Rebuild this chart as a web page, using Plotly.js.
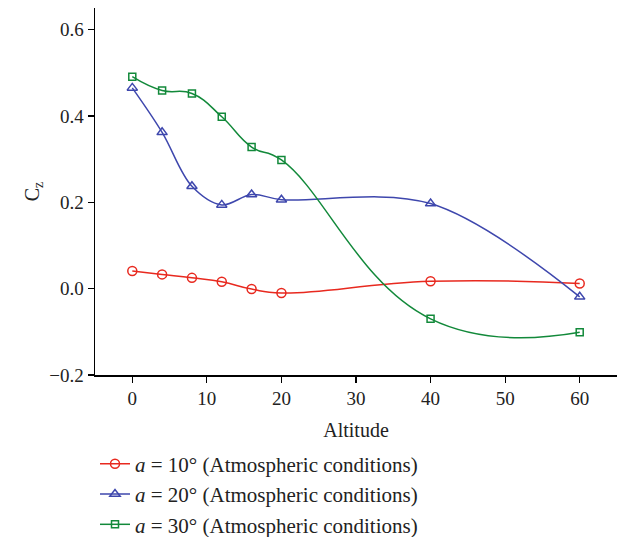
<!DOCTYPE html>
<html>
<head>
<meta charset="utf-8">
<script src="https://cdn.plot.ly/plotly-3.0.1.min.js"></script>
<style>html,body{margin:0;padding:0;background:#fff;}#chart{width:626px;height:537px;}</style>
</head>
<body>
<div id="chart"></div>
<script>
const altitude = [0, 4, 8, 12, 16, 20, 40, 60];
const cz10 = [0.041, 0.033, 0.025, 0.016, -0.001, -0.010, 0.017, 0.012];
const cz20 = [0.465, 0.362, 0.237, 0.194, 0.218, 0.206, 0.197, -0.019];
const cz30 = [0.491, 0.459, 0.452, 0.398, 0.328, 0.298, -0.070, -0.101];
const names = [
  "<i>a</i> = 10° (Atmospheric conditions)",
  "<i>a</i> = 20° (Atmospheric conditions)",
  "<i>a</i> = 30° (Atmospheric conditions)"
];
const colors = ["#e8291f", "#3e47ad", "#12893a"];
const symbols = ["circle-open", "triangle-up-open", "square-open"];
const series = [cz10, cz20, cz30];

const traces = series.map((ys, i) => ({
  x: altitude, y: ys, name: names[i], type: "scatter", mode: "lines+markers",
  line: {color: colors[i], width: 1.5, shape: "spline", smoothing: i === 1 ? 1.0 : 1.3},
  marker: {symbol: symbols[i], size: i === 2 ? 7 : 9, color: colors[i], line: {width: 1.5, color: colors[i]}}
}));

const tickFont = {family: "Liberation Serif, Times New Roman, serif", size: 19, color: "#222"};
const font = {family: "Liberation Serif, Times New Roman, serif", size: 20, color: "#222"};
const legendFont = {family: "Liberation Serif, Times New Roman, serif", size: 21, color: "#222"};
const layout = {
  width: 626, height: 537,
  margin: {l: 95, r: 9, t: 8, b: 162, autoexpand: false},
  paper_bgcolor: "#fff", plot_bgcolor: "#fff",
  font: font,
  showlegend: true,
  xaxis: {
    range: [-5, 65], tickvals: [0, 10, 20, 30, 40, 50, 60], tickfont: tickFont,
    showline: true, linecolor: "#000", linewidth: 1.5, showgrid: false, zeroline: false,
    ticks: "outside", ticklen: 6, tickcolor: "#000", tickwidth: 1.2,
    title: {text: "Altitude", font: font, standoff: 14}
  },
  yaxis: {
    range: [-0.2, 0.65], tickvals: [-0.2, 0, 0.2, 0.4, 0.6], tickfont: tickFont,
    ticktext: ["\u22120.2", "0.0", "0.2", "0.4", "0.6"],
    showline: true, linecolor: "#000", linewidth: 1.5, showgrid: false, zeroline: false,
    ticks: "outside", ticklen: 6, tickcolor: "#000", tickwidth: 1.2,
    title: {text: "C<sub>z</sub>", font: font, standoff: 4}
  },
  legend: {
    orientation: "v", x: 0.0, xanchor: "left", xref: "paper",
    y: 0.174, yanchor: "top", yref: "container",
    font: legendFont, bgcolor: "rgba(0,0,0,0)", tracegroupgap: 0
  }
};
Plotly.newPlot("chart", traces, layout, {displayModeBar: false, staticPlot: true});
</script>
</body>
</html>
